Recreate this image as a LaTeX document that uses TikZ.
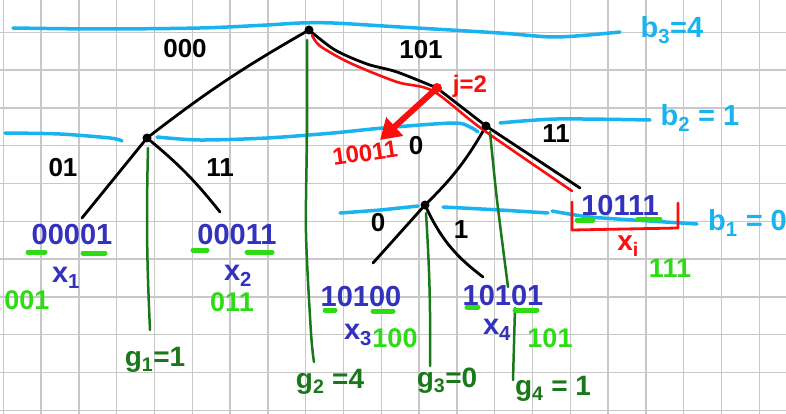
\documentclass[tikz,border=0pt]{standalone}
\usepackage{fontspec}
\setmainfont{Liberation Sans}
\usetikzlibrary{arrows.meta}
\definecolor{skyblue}{RGB}{25,180,240}
\definecolor{treegreen}{RGB}{25,120,25}
\definecolor{litegreen}{RGB}{45,220,20}
\definecolor{codeblue}{RGB}{50,50,190}
\definecolor{penred}{RGB}{250,15,15}
\definecolor{gridgray}{RGB}{200,200,200}
\begin{document}
\begin{tikzpicture}[x=1pt,y=-1pt,line cap=round,line join=round,inner sep=0pt,
  wave/.style={skyblue,line width=3.5pt},
  edge/.style={black,line width=2.8pt},
  gline/.style={treegreen,line width=2.5pt},
  hl/.style={litegreen,line width=5pt},
  bits/.style={font=\fontsize{26}{26}\selectfont\bfseries},
  code/.style={codeblue,font=\fontsize{29}{29}\selectfont\bfseries},
  lime/.style={litegreen,font=\fontsize{27}{27}\selectfont\bfseries},
  gtxt/.style={treegreen,font=\fontsize{28}{28}\selectfont\bfseries},
  btxt/.style={skyblue,font=\fontsize{29}{29}\selectfont\bfseries},
  rtxt/.style={penred,font=\fontsize{24}{24}\selectfont\bfseries}]
 \useasboundingbox (0,0) rectangle (786,414);
 \fill[white] (0,0) rectangle (786,414);
 % squared paper
 \foreach \x in {0,...,20} \draw[gridgray,line width=1.5pt] (3.3+37.8*\x,0) -- (3.3+37.8*\x,414);
 \foreach \y in {0,...,10} \draw[gridgray,line width=1.5pt] (0,32.3+37.8*\y) -- (786,32.3+37.8*\y);
 % level lines
 \draw[wave] plot[smooth] coordinates {(13,28) (100,29) (200,28) (267,25) (300,23) (333,23) (400,27) (500,33) (557,37) (620,32)};
 \draw[wave] plot[smooth] coordinates {(5,133) (60,134) (110,138) (122,141)};
 \draw[wave] plot[smooth] coordinates {(157,137) (200,140) (267,138) (333,133) (383,128) (453,123) (470,127) (478,132)};
 \draw[wave] plot[smooth] coordinates {(500,123) (557,119) (650,120)};
 \draw[wave] plot[smooth] coordinates {(340,213) (380,210) (418,206)};
 \draw[wave] plot[smooth] coordinates {(443,207) (500,210) (548,213)};
 \draw[wave] plot[smooth] coordinates {(552,211) (590,217) (650,221) (697,224)};
 \node[btxt] (b3) at (672,30) {b\textsubscript{3}=4};
 \node[btxt] (b2) at (700,118) {b\textsubscript{2} = 1};
 \node[btxt,anchor=west] (b1) at (708,223) {b\textsubscript{1} = 0};
 % tree
 \coordinate (root) at (309,30);
 \coordinate (lc) at (147,138);
 \coordinate (rc) at (486,126);
 \coordinate (rl) at (425,205);
 \coordinate (jdot) at (437,88);
 \coordinate (ll) at (82,218);
 \coordinate (lr) at (220,212);
 \coordinate (rr) at (580,188);
 \coordinate (rll) at (373,263);
 \coordinate (rlr) at (483,277);
 \coordinate (tip) at (380,140);
 \draw[edge] (root) to[bend right=4] (lc);
 \draw[edge] (lc) -- (ll);
 \draw[edge] (lc) to[bend left=6] (lr);
 \draw[edge] plot[smooth] coordinates {(root) (335,50) (367,64) (397,72) (jdot)};
 \draw[edge] (jdot) -- (rc) -- (rr);
 \draw[edge] (rc) to[bend left=8] (rl);
 \draw[edge] (rl) -- (rll);
 \draw[edge] (rl) to[bend right=14] (rlr);
 % highlighted path
 \draw[penred,line width=2.6pt] plot[smooth] coordinates {(312,35) (320,46) (350,63) (397,82) (433,91) (482,129) (572,191)};
 \foreach \v in {root,lc,rc,rl} \fill (\v) circle (4.5pt);
 % gaps
 \draw[gline] (lc) ++(1,10) to[bend right=2] (150,330);
 \draw[gline] plot[smooth] coordinates {(307,40) (307,133) (306,233) (311,333) (314,362)};
 \draw[gline] (rl) ++(1,8) to[bend left=2] (430,366);
 \draw[gline] plot[smooth] coordinates {(490,132) (497,200) (508,287)};
 \draw[gline] (515,308) -- (513,380);
 \node[gtxt] (g1) at (155,360) {g\textsubscript{1}=1};
 \node[gtxt] (g2) at (330,382) {g\textsubscript{2} =4};
 \node[gtxt] (g3) at (447,381) {g\textsubscript{3}=0};
 \node[gtxt] (g4) at (553,389) {g\textsubscript{4} = 1};
 % edge labels
 \node[bits] (e000) at (185,49) {000};
 \node[bits] (e101) at (421,50) {101};
 \node[bits] (e01) at (63,168) {01};
 \node[bits] (e11a) at (220,168) {11};
 \node[bits] (e0a) at (416,146) {0};
 \node[bits] (e11b) at (556,134) {11};
 \node[bits] (e0b) at (378,223) {0};
 \node[bits] (e1b) at (461,230) {1};
 % leaves
 \foreach \a/\b/\h in {28/45/252,83/105/253,193/207/250,247/272/252,325/335/310,373/393/311,467/478/307,515/537/310,577/593/220,638/660/219}
   \draw[hl] (\a,\h) -- (\b,\h);
 \node[code] (c1) at (72,235) {00001};
 \node[code] (c2) at (237,235) {00011};
 \node[code] (c3) at (361,297) {10100};
 \node[code] (c4) at (503,296) {10101};
 \node[code] (c5) at (620,206) {10111};
 \node[code] (x1) at (66,278) {x\textsubscript{1}};
 \node[code] (x2) at (238,276) {x\textsubscript{2}};
 \node[code] (x3) at (358,335) {x\textsubscript{3}};
 \node[code] (x4) at (497,330) {x\textsubscript{4}};
 \node[lime] (s1) at (27,300) {001};
 \node[lime] (s2) at (232,302) {011};
 \node[lime] (s3) at (395,338) {100};
 \node[lime] (s4) at (550,338) {101};
 \node[lime] (s5) at (670,268) {111};
 % chosen leaf
 \draw[penred,line width=2.8pt] (572,202) -- (572,230) -- (678,228) -- (678,203);
 \node[rtxt,font=\fontsize{28}{28}\selectfont\bfseries] (xi) at (628,246) {x\textsubscript{i}};
 \fill[penred] (jdot) circle (5pt);
 \draw[penred,line width=6pt,-{Triangle[length=20pt,width=24pt]}] (jdot) -- (tip);
 \node[rtxt] (j2) at (470,86) {j=2};
 \node[rtxt,rotate=8] (r1) at (365,153) {10011};
\end{tikzpicture}
\end{document}
